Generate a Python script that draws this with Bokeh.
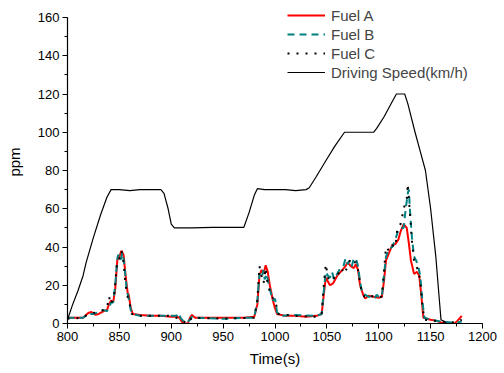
from bokeh.plotting import figure
from bokeh.models import Range1d, SingleIntervalTicker, Legend, LegendItem
from bokeh.embed import file_html
from bokeh.resources import INLINE

t_speed = [800, 805, 810, 815, 818, 825, 832, 838, 842, 850, 860, 870, 890, 893, 897, 900, 903, 920, 940, 970, 975, 980, 983, 990, 1000, 1010, 1020, 1030, 1033, 1040, 1050, 1058, 1067, 1080, 1095, 1098, 1105, 1112, 1117, 1125, 1128, 1135, 1140, 1145, 1150, 1155, 1158, 1160, 1165]
speed = [2, 10, 17, 25, 32, 45, 57, 66, 70, 70, 69.5, 70, 70, 68, 60, 52, 50, 50, 50.3, 50.3, 58, 67, 70.5, 70, 70, 70, 69.5, 70, 71, 77, 86, 93, 100, 100, 100, 102, 108, 115, 120, 120, 115, 100, 90, 80, 60, 35, 15, 2, 0.5]

t_a = [800, 815, 820, 823, 827, 830, 835, 838, 840, 842, 844, 846, 848, 850, 852, 854, 856, 858, 859, 861, 863, 870, 880, 890, 900, 905, 908, 910, 913, 916, 918, 920, 923, 930, 950, 970, 980, 983, 985, 987, 989, 991, 993, 995, 998, 1000, 1002, 1010, 1020, 1030, 1040, 1045, 1047, 1049, 1051, 1053, 1056, 1060, 1065, 1068, 1070, 1073, 1076, 1078, 1080, 1082, 1085, 1087, 1090, 1095, 1100, 1103, 1105, 1107, 1110, 1113, 1116, 1119, 1121, 1124, 1127, 1129, 1131, 1134, 1137, 1139, 1141, 1143, 1150, 1155, 1160, 1170, 1173, 1176, 1180]
fuel_a = [3, 3, 5.5, 6, 4.5, 5, 6.5, 7, 10, 12, 11, 18, 33, 35, 38, 36, 25, 16, 15, 8, 5, 4.5, 4, 4, 3.5, 3.5, 3, 1, 0, 0, 3, 4.5, 3, 3, 3, 3, 3.5, 10, 25, 28, 26, 30.5, 27, 20, 12, 8, 5, 4, 4, 3.5, 4, 5, 15, 24, 22, 20, 21, 25, 28, 30, 32, 30, 29, 31, 28, 20, 15, 13, 14.5, 14, 13.5, 14, 22, 33, 37, 41, 41.5, 44, 48, 52, 50, 42, 33, 26, 27, 25, 15, 3, 2, 1.5, 0.5, 0.3, 0, 1.5, 4]

t_b = [800, 815, 820, 825, 830, 835, 838, 840, 842, 844, 846, 848, 849, 851, 853, 855, 857, 859, 861, 863, 870, 880, 890, 900, 905, 907, 909, 912, 915, 918, 920, 923, 950, 970, 980, 983, 985, 987, 989, 990, 992, 994, 996, 998, 1000, 1002, 1005, 1020, 1040, 1045, 1047, 1049, 1051, 1053, 1055, 1057, 1060, 1063, 1066, 1068, 1070, 1072, 1074, 1076, 1078, 1080, 1082, 1084, 1087, 1090, 1093, 1096, 1098, 1100, 1103, 1105, 1107, 1110, 1113, 1116, 1119, 1122, 1124, 1126, 1128, 1129, 1130, 1132, 1134, 1136, 1138, 1140, 1142, 1144, 1150, 1160, 1170, 1175, 1180]
fuel_b = [3, 3, 5, 5, 6, 7, 6.5, 8, 11, 11, 20, 34, 36, 33, 37, 30, 18, 13, 7, 5, 4, 4, 4, 4, 4, 5.5, 3, 1, 0.5, 2, 3.5, 3, 2.5, 3, 3, 12, 26, 24, 28, 23, 26, 20, 16, 12, 13, 6, 4, 4.5, 4, 5, 17, 27, 25, 24, 27, 23, 26, 29, 30, 34, 31, 33, 30, 34, 34, 30, 22, 16, 15, 14, 14, 13, 15, 14, 14, 25, 35, 39, 40, 44, 49, 50, 50, 60, 68, 70, 60, 45, 35, 33, 30, 25, 12, 3, 2, 1, 0.5, 0.5, 1]

t_c = [800, 815, 820, 830, 838, 840, 842, 845, 848, 850, 852, 854, 856, 858, 860, 862, 870, 900, 910, 915, 920, 950, 980, 983, 985, 987, 989, 991, 993, 995, 997, 999, 1001, 1003, 1020, 1040, 1045, 1047, 1049, 1051, 1053, 1056, 1060, 1063, 1065, 1067, 1070, 1073, 1076, 1078, 1080, 1083, 1086, 1090, 1095, 1100, 1103, 1105, 1107, 1110, 1113, 1116, 1118, 1121, 1123, 1125, 1127, 1128, 1130, 1132, 1134, 1136, 1138, 1140, 1142, 1144, 1160, 1175, 1180]
fuel_c = [2.5, 3, 5, 6, 8, 14, 10, 15, 33, 34, 38, 32, 20, 14, 10, 5, 4, 4, 2, 0, 3, 2.5, 3, 12, 30, 25, 21, 29, 20, 17, 15, 11, 10, 5, 4, 3.5, 5, 20, 31, 24, 22, 23, 27, 25, 28, 26, 30, 34, 32, 32, 28, 18, 14, 15, 14, 14, 14, 27, 40, 38, 41, 40, 50, 52, 57, 62, 65, 73, 58, 43, 33, 30, 28, 22, 10, 2, 1, 0.5, 2]

x_ticks_interval = 50
y_ticks_interval = 20
y_axis_bounds = (0, 160)
labels = ["Fuel A", "Fuel B", "Fuel C", "Driving Speed(km/h)"]

FONT = "Liberation Sans"

# frame spans the full top margin so the legend is not clipped; axis line bounded at 160
p = figure(width=504, height=373, output_backend="svg", toolbar_location=None,
           x_range=Range1d(800, 1200), y_range=Range1d(0, 168.9),
           min_border_left=67, min_border_right=22, min_border_top=0, min_border_bottom=50)
p.outline_line_color = None
p.xgrid.visible = False
p.ygrid.visible = False
p.background_fill_color = "white"

r_a = p.line(t_a, fuel_a, line_color="#ff0000", line_width=2)
r_b = p.line(t_b, fuel_b, line_color="#008080", line_width=2, line_dash="7 5")
r_c = p.line(t_c, fuel_c, line_color="black", line_width=2, line_dash="2 7")
r_s = p.line(t_speed, speed, line_color="black", line_width=1.2)

for ax in (p.xaxis[0], p.yaxis[0]):
    ax.axis_line_color = "black"
    ax.axis_line_width = 1.2
    ax.major_tick_in = 0
    ax.major_tick_out = 5
    ax.minor_tick_in = 0
    ax.minor_tick_out = 3
    ax.major_tick_line_color = "black"
    ax.minor_tick_line_color = "black"
    ax.major_label_text_font = FONT
    ax.major_label_text_font_size = "13px"
    ax.major_label_text_color = "black"
    ax.axis_label_text_font = FONT
    ax.axis_label_text_font_size = "15px"
    ax.axis_label_text_font_style = "normal"
    ax.axis_label_text_color = "black"

p.yaxis.bounds = y_axis_bounds
p.xaxis.ticker = SingleIntervalTicker(interval=x_ticks_interval, num_minor_ticks=2)
p.yaxis.ticker = SingleIntervalTicker(interval=y_ticks_interval, num_minor_ticks=2)
p.xaxis.axis_label = "Time(s)"
p.yaxis.axis_label = "ppm"
p.xaxis.major_label_standoff = 3
p.yaxis.major_label_standoff = 3
p.xaxis.axis_label_standoff = 6
p.yaxis.axis_label_standoff = 12

legend = Legend(items=[LegendItem(label=l, renderers=[r]) for l, r in zip(labels, [r_a, r_b, r_c, r_s])],
                location=(220, 242))
legend.label_text_font = FONT
legend.label_text_font_size = "15px"
legend.glyph_width = 38
legend.glyph_height = 18
legend.label_height = 18
legend.label_standoff = 6
legend.spacing = 1
legend.padding = 0
legend.margin = 0
legend.border_line_alpha = 0
legend.background_fill_alpha = 0
p.add_layout(legend, "center")

open("out.html", "w").write(file_html(p, INLINE))
